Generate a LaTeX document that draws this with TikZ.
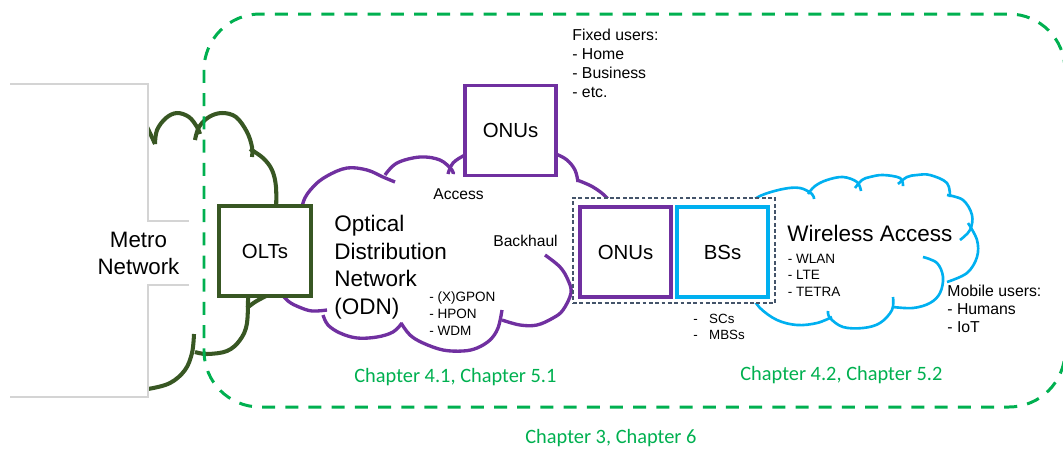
\documentclass[tikz,border=0pt]{standalone}
\usepackage{fontspec}
\setmainfont{Liberation Sans}
\newfontfamily\chapfont{Carlito}
\definecolor{oltgreen}{HTML}{385723}
\definecolor{odnpurple}{HTML}{7030A0}
\definecolor{wlblue}{HTML}{00B0F0}
\definecolor{chapgreen}{HTML}{00B050}
\definecolor{metrogray}{HTML}{D4D4D4}
\definecolor{groupslate}{HTML}{44546A}
\begin{document}
\begin{tikzpicture}[x=0.02cm,y=-0.02cm,
  cloudolt/.style={draw=oltgreen,line width=2.3pt,smooth,tension=0.6},
  cloudodn/.style={draw=odnpurple,line width=1.9pt,smooth,tension=0.6},
  cloudwl/.style={draw=wlblue,line width=1.5pt,smooth,tension=0.6},
  box/.style={draw,fill=white,line width=1.8pt,minimum width=1.82cm,minimum height=1.8cm,
    inner sep=0pt,font=\fontsize{11.6}{14}\selectfont},
  grp/.style={draw=groupslate,fill=white,line width=0.6pt,dash pattern=on 2.2pt off 1.4pt,
    minimum width=4.04cm,minimum height=2.1cm,inner sep=0pt},
  frame/.style={draw=chapgreen,line width=1.7pt,dash pattern=on 7.4pt off 5.8pt,rounded corners=1.12cm},
  txt/.style={inner sep=0pt,anchor=base west},
  blk/.style={inner sep=0pt,anchor=north west,align=left},
  chap/.style={inner sep=0pt,anchor=base west,text=chapgreen,font=\chapfont\fontsize{11.6}{14}\selectfont},
  metroedge/.style={draw=metrogray,line width=0.6pt}]
\useasboundingbox (0,0) rectangle (1063,451);

% metro network cloud (dark green)
\draw[cloudolt] plot coordinates {(138,112) (147,127) (155,144)};
\draw[cloudolt] plot coordinates {(155,144) (157,130) (166,118) (177,113) (189,117) (197,127) (200,134)};
\draw[cloudolt] plot coordinates {(195,140) (199,127) (209,117) (222,113) (236,117) (247,132) (252,147) (252,157)};
\draw[cloudolt] plot coordinates {(250,149) (263,158) (272,170) (276,187) (276,212)};
\draw[cloudolt] plot coordinates {(247,308) (255,302) (266,296)};
\draw[cloudolt] plot coordinates {(248,290) (247,323) (240,340) (227,351) (207,354) (195,352)};
\draw[cloudolt] plot coordinates {(194,334) (192,353) (185,370) (170,383) (148,389) (132,390)};

% white panel carrying the metro label
\fill[white] (0,84) -- (148,84) -- (148,221) -- (189,221) -- (189,285) -- (148,285) -- (148,397) -- (0,397) -- cycle;
\draw[metroedge] (10,84) -- (148,84) -- (148,221) -- (189,221);
\draw[metroedge] (189,285) -- (148,285) -- (148,397) -- (10,397);

% optical distribution network cloud (purple)
\draw[cloudodn] plot coordinates {(300,232) (303,203) (313,187) (327,176) (347,168) (367,170) (383,177) (395,182)};
\draw[cloudodn] plot coordinates {(385,175) (397,163) (420,157) (440,160) (452,170) (453,174)};
\draw[cloudodn] plot coordinates {(448,174) (453,163) (465,155) (476,151)};
\draw[cloudodn] plot coordinates {(545,150) (556,154) (567,160) (575,170) (578,182)};
\draw[cloudodn] plot coordinates {(577,180) (593,187) (607,198) (614,212)};
\draw[cloudodn] plot coordinates {(545,255) (560,267) (568,280) (571,293) (563,310) (553,318) (537,325) (520,325) (502,320)};
\draw[cloudodn] plot coordinates {(502,310) (498,328) (490,340) (477,348) (463,351) (443,350) (423,343) (410,335) (401,323)};
\draw[cloudodn] plot coordinates {(402,323) (393,332) (377,337) (357,338) (340,333) (328,325) (323,315)};
\draw[cloudodn] plot coordinates {(327,310) (312,311) (299,307) (288,301) (278,290)};

% wireless access cloud (blue)
\draw[cloudwl] plot coordinates {(745,207) (760,196) (783,189) (800,188) (812,194) (814,199)};
\draw[cloudwl] plot coordinates {(808,194) (815,186) (827,180) (843,177) (857,182) (861,191)};
\draw[cloudwl] plot coordinates {(855,188) (862,180) (870,177) (883,175) (900,178) (903,186)};
\draw[cloudwl] plot coordinates {(898,184) (907,177) (917,175) (930,175) (947,183) (950,197)};
\draw[cloudwl] plot coordinates {(947,195) (963,200) (972,215) (970,230) (960,240)};
\draw[cloudwl] plot coordinates {(968,223) (977,240) (977,257) (967,273) (947,282)};
\draw[cloudwl] plot coordinates {(923,257) (937,263) (943,277) (940,293) (930,303) (913,308) (893,307)};
\draw[cloudwl] plot coordinates {(893,297) (892,310) (880,323) (863,328) (843,327) (830,318) (828,311)};
\draw[cloudwl] plot coordinates {(832,317) (817,323) (797,325) (777,320) (760,308) (752,296)};

% equipment boxes
\node[grp] (site) at (674,250.5) {};
\node[box,draw=oltgreen,minimum width=1.84cm] (olt) at (265,251) {OLTs};
\node[box,draw=odnpurple] (onutop) at (510.5,130.5) {ONUs};
\node[box,draw=odnpurple] (onu) at (625.5,252) {ONUs};
\node[box,draw=wlblue] (bs) at (722.5,252) {BSs};

% labels
\node[inner sep=0pt,anchor=north,align=center,font=\fontsize{12.7}{15.2}\selectfont] (metro) at (138.5,232) {Metro\\Network};
\node[blk,font=\fontsize{12.8}{15.6}\selectfont] (odn) at (334,215.2) {Optical\\Distribution\\Network\\(ODN)};
\node[txt,font=\fontsize{8.9}{10.8}\selectfont] (access) at (433,199.3) {Access};
\node[txt,font=\fontsize{8.9}{10.8}\selectfont] (backhaul) at (493,246) {Backhaul};
\node[blk,font=\fontsize{7.7}{9.45}\selectfont] (pon) at (429,291.8) {- (X)GPON\\- HPON\\- WDM};
\node[blk,font=\fontsize{9}{10.8}\selectfont] (fixed) at (572,28.4) {Fixed users:\\- Home\\- Business\\- etc.};
\node[txt,font=\fontsize{12.8}{15.6}\selectfont] (wireless) at (787,241.7) {Wireless Access};
\node[blk,font=\fontsize{7.7}{9.45}\selectfont] (wtech) at (787.5,253.6) {- WLAN\\- LTE\\- TETRA};
\node[blk,font=\fontsize{7.6}{9.45}\selectfont] (bstypes) at (693,313.7) {-\hspace{6.5pt}SCs\\-\hspace{6.5pt}MBSs};
\node[blk,font=\fontsize{9}{10.2}\selectfont] (mobile) at (947,285.1) {Mobile users:\\- Humans\\- IoT};
\node[chap] (chodn) at (354,382) {Chapter 4.1, Chapter 5.1};
\node[chap] (chwl) at (740,380) {Chapter 4.2, Chapter 5.2};
\node[chap] (chall) at (525,443) {Chapter 3, Chapter 6};

% scope of the access network
\draw[frame] (204,14) rectangle (1065,407);
\end{tikzpicture}
\end{document}
